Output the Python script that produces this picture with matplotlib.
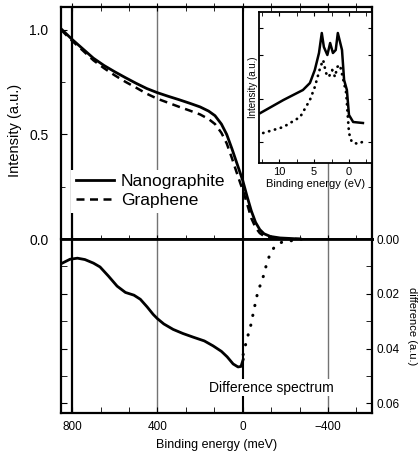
import numpy as np
import matplotlib
matplotlib.use('Agg')
import matplotlib.pyplot as plt
from matplotlib.ticker import MultipleLocator, FixedLocator

plt.rcParams['font.family'] = ['Liberation Sans', 'DejaVu Sans']

# main panel: photoemission intensity vs binding energy (meV)
nano_e = [851, 800, 750, 700, 650, 600, 550, 500, 450, 400, 350, 300, 250, 200, 160, 130, 100, 75, 50, 30,
          10, 0, -20, -40, -60, -80, -100, -130, -175, -270]
nano_i = [1.005, 0.955, 0.91, 0.865, 0.83, 0.80, 0.772, 0.745, 0.72, 0.70, 0.683, 0.667, 0.65, 0.632, 0.612,
          0.59, 0.55, 0.50, 0.43, 0.37, 0.31, 0.28, 0.205, 0.135, 0.08, 0.045, 0.025, 0.012, 0.005, 0.0]
graph_e = [851, 800, 750, 700, 650, 600, 550, 500, 450, 400, 350, 300, 250, 200, 160, 130, 100, 75, 50, 30,
           10, 0, -20, -40, -60, -80, -100, -130, -175, -270]
graph_i = [1.0, 0.948, 0.902, 0.855, 0.817, 0.783, 0.752, 0.724, 0.695, 0.671, 0.652, 0.633, 0.615, 0.596,
           0.574, 0.55, 0.508, 0.457, 0.385, 0.323, 0.263, 0.235, 0.17, 0.10, 0.055, 0.028, 0.014, 0.005,
           0.001, 0.0]

# difference spectrum (solid part, then dotted part)
diff_e = [851, 810, 775, 740, 700, 669, 630, 589, 550, 510, 480, 448, 420, 401, 370, 326, 280, 233, 180,
          139, 100, 73, 45, 22, 8, -2]
diff_v = [0.0090, 0.0074, 0.0070, 0.0075, 0.0088, 0.0102, 0.0135, 0.0172, 0.0195, 0.0205, 0.0220, 0.0248,
          0.0275, 0.0290, 0.0310, 0.0330, 0.0345, 0.0358, 0.0372, 0.0390, 0.0410, 0.0430, 0.0456, 0.0467,
          0.0465, 0.0440]
diff_dot_e = [-2, -21, -35, -54, -72, -91, -110, -128, -152, -185, -222, -280]
diff_dot_v = [0.0422, 0.0361, 0.0325, 0.0253, 0.0188, 0.0152, 0.0097, 0.0054, 0.0025, 0.0011, 0.0007, 0.0]

# inset: wide range spectra (eV)
ins_e = [12.7, 9.4, 6.6, 5.6, 4.9, 4.3, 3.9, 3.6, 3.1, 2.7, 2.3, 1.9, 1.6, 1.0, 0.7, 0.3, 0.0, -0.6, -2.0]
ins_nano = [50, 63, 73, 80, 93, 110, 130, 116, 108, 120, 110, 113, 130, 113, 83, 73, 48, 41, 40]
ins_dot_e = [12.3, 9.4, 7.0, 5.6, 4.9, 4.1, 3.7, 3.3, 2.9, 2.4, 2.0, 1.7, 1.3, 0.9, 0.4, 0.3, 0.0, -0.4, -1.3, -1.9]
ins_graph = [30, 36, 46, 63, 76, 96, 103, 90, 86, 93, 86, 96, 98, 86, 70, 60, 30, 21, 19, 21]

W, H = 418, 458
fig = plt.figure(figsize=(W / 100, H / 100), dpi=100)

def box(l, t, r, b):
    return [l / W, 1 - b / H, (r - l) / W, (b - t) / H]

ax1 = fig.add_axes(box(61, 7, 372, 239))
ax2 = fig.add_axes(box(61, 239, 372, 413))
xlim = (852, -606)

for ax in (ax1, ax2):
    ax.set_xlim(*xlim)
    for s in ax.spines.values():
        s.set_linewidth(1.6)
    ax.axvline(800, color='black', lw=1.6, zorder=1)
    ax.axvline(0, color='black', lw=1.5, zorder=1)
    ax.axvline(400, color='0.45', lw=1.0, zorder=1)
    ax.axvline(-400, color='0.45', lw=1.0, zorder=1)
    ax.xaxis.set_major_locator(FixedLocator([800, 400, 0, -400]))
    ax.xaxis.set_minor_locator(MultipleLocator(400 / 3))

ax1.spines['bottom'].set_linewidth(2.0)
ax2.spines['top'].set_linewidth(2.0)

# upper panel
ax1.plot(nano_e, nano_i, color='black', lw=2.0, label='Nanographite', zorder=3)
ax1.plot(graph_e, graph_i, color='black', lw=1.8, ls=(0, (3.2, 2.2)), label='Graphene', zorder=3)
ax1.set_ylim(0, 1.11)
ax1.set_yticks([0.0, 0.5, 1.0])
ax1.set_yticklabels(['0.0', '0.5', '1.0'])
ax1.yaxis.set_minor_locator(MultipleLocator(0.25))
ax1.tick_params(axis='both', which='both', direction='in', top=True, right=True, labelsize=10)
ax1.tick_params(axis='x', which='both', bottom=True, direction='inout', labelbottom=False, length=6)
ax1.tick_params(axis='y', which='major', length=4, pad=9)
ax1.tick_params(axis='y', which='minor', length=3)
ax1.set_ylabel('Intensity (a.u.)', fontsize=10.5)
ax1.yaxis.set_label_coords(-0.125, 0.47)
leg = ax1.legend(loc='upper left', bbox_to_anchor=(0.005, 0.335), fontsize=12.5, handlelength=2.2,
                 handletextpad=0.4, labelspacing=0.22, borderpad=0.25, frameon=True, fancybox=False)
leg.get_frame().set_facecolor('white')
leg.get_frame().set_edgecolor('none')
leg.get_frame().set_alpha(1)
leg.set_zorder(5)

# lower panel
ax2.plot(diff_e, diff_v, color='black', lw=2.0, zorder=3)
ax2.plot(diff_dot_e, diff_dot_v, color='black', lw=2.2, ls=(0, (0.1, 3.2)), dash_capstyle='round', zorder=3)
ax2.set_ylim(0.0635, 0)
ax2.set_yticks([0.0, 0.02, 0.04, 0.06])
ax2.set_yticklabels(['0.00', '0.02', '0.04', '0.06'])
ax2.yaxis.set_minor_locator(MultipleLocator(0.01))
ax2.tick_params(axis='both', which='both', direction='in', left=True, right=True, top=False,
                labelleft=False, labelright=True, labelsize=8.5)
ax2.tick_params(axis='y', which='both', length=4)
ax2.tick_params(axis='x', which='both', length=4, pad=6, labelsize=8.5)
ax2.set_xlabel('Binding energy (meV)', fontsize=9)
ax2.yaxis.set_label_position('right')
ax2.set_ylabel('difference (a.u.)', fontsize=8, rotation=270, labelpad=12)
ax2.text(-135, 0.0542, 'Difference spectrum', fontsize=10, ha='center', va='center', zorder=4,
         bbox=dict(facecolor='white', edgecolor='none', pad=1.0))

# inset
ax3 = fig.add_axes(box(259, 12, 372, 163))
ax3.set_zorder(6)
ax3.set_facecolor('white')
ax3.plot(ins_e, ins_nano, color='black', lw=1.8)
ax3.plot(ins_dot_e, ins_graph, color='black', lw=2.0, ls=(0, (0.1, 2.1)), dash_capstyle='round')
ax3.set_xlim(12.9, -3.3)
ax3.set_ylim(0, 151)
ax3.set_xticks([10, 5, 0])
ax3.xaxis.set_minor_locator(MultipleLocator(2.5))
ax3.set_yticks([21, 64, 108, 135])
ax3.tick_params(axis='both', which='both', direction='in', top=True, right=True, labelleft=False,
                labelsize=8, length=3, pad=3)
for s in ax3.spines.values():
    s.set_linewidth(1.3)
ax3.set_xlabel('Binding energy (eV)', fontsize=8, labelpad=1)
ax3.set_ylabel('Intensity (a.u.)', fontsize=7, labelpad=1)

fig.savefig('out.png', dpi=100)
